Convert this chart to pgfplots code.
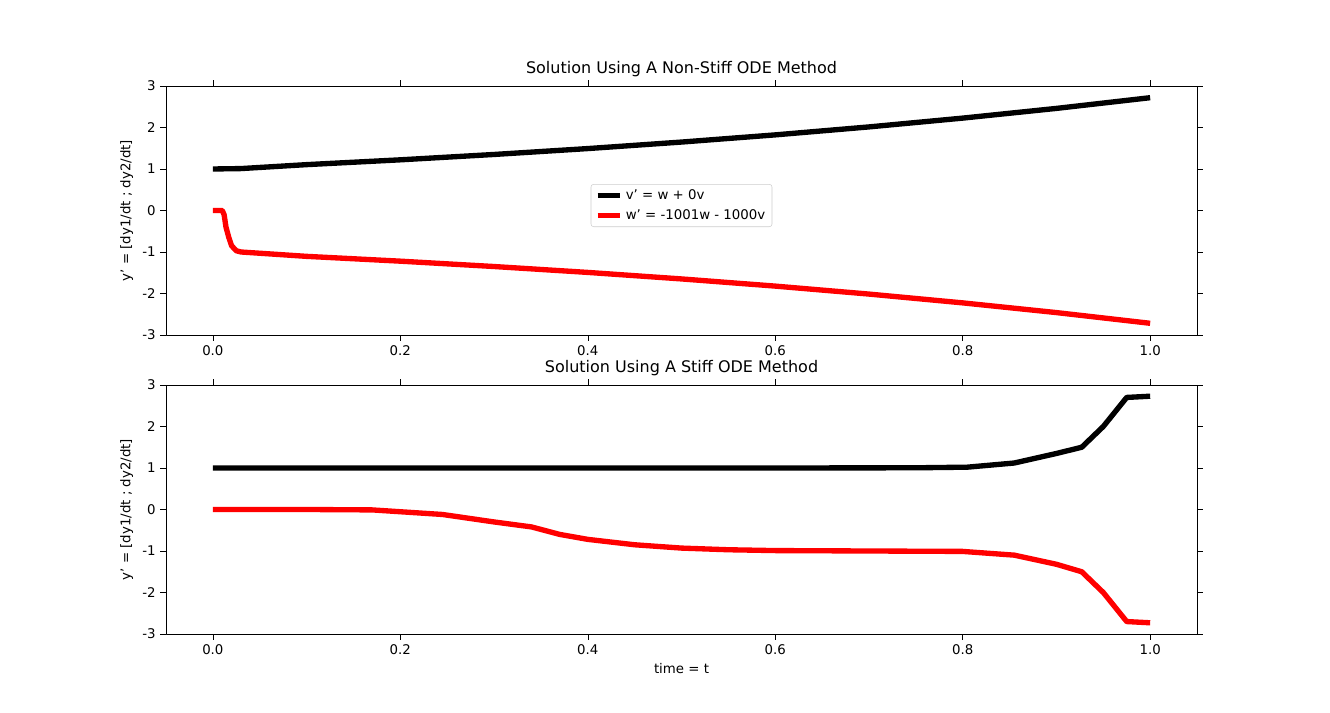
\documentclass[border=0pt]{standalone}
\usepackage{pgfplots}
\pgfplotsset{compat=1.18}
\usepackage{fontspec}
\setmainfont{DejaVu Sans}
\begin{document}
\fontsize{10}{12}\selectfont
\begin{tikzpicture}
\pgfplotsset{every axis/.style={scale only axis, width=773.25pt, height=186.75pt,
 xmin=-0.05, xmax=1.05, ymin=-3, ymax=3, ytick={-3,-2,...,3}, xtick={0,0.2,0.4,0.6,0.8,1.0},
 xticklabels={0.0,0.2,0.4,0.6,0.8,1.0},
 /pgf/number format/assume math mode=true, tick align=outside, tick style={black, thin},
 ylabel={y' = [dy1/dt ; dy2/dt]}, title style={font=\fontsize{12}{14}\selectfont, yshift=-3pt},
 ticklabel style={font=\fontsize{10}{12}\selectfont}, label style={font=\fontsize{10}{12}\selectfont},
 line join=round}}
\begin{axis}[at={(0,283.5pt)}, anchor=south west, title={Solution Using A Non-Stiff ODE Method},
 legend style={at={(0.5,0.52)}, anchor=center, draw=black!20, rounded corners=2pt, font=\fontsize{10}{12}\selectfont, row sep=2pt},
 legend cell align=left, legend image post style={line width=4pt}]
\addplot[black, line width=4pt] coordinates {(0,1)(0.03,1.01)(0.1,1.105)(0.2,1.221)(0.3,1.350)(0.4,1.492)(0.5,1.649)(0.6,1.822)(0.7,2.014)(0.8,2.226)(0.9,2.460)(1.0,2.718)};
\addlegendentry{v' = w + 0v}
\addplot[red, line width=4pt] coordinates {(0,0)(0.01,0)(0.012,-0.1)(0.014,-0.4)(0.017,-0.65)(0.02,-0.85)(0.025,-0.97)(0.03,-1.0)(0.1,-1.105)(0.2,-1.221)(0.3,-1.350)(0.4,-1.492)(0.5,-1.649)(0.6,-1.822)(0.7,-2.014)(0.8,-2.226)(0.9,-2.460)(1.0,-2.718)};
\addlegendentry{w' = -1001w - 1000v}
\end{axis}
\begin{axis}[at={(0,59.25pt)}, anchor=south west, title={Solution Using A Stiff ODE Method}, xlabel={time = t}]
\addplot[black, line width=4pt] coordinates {(0,1)(0.6,1)(0.75,1.005)(0.805,1.02)(0.855,1.12)(0.9,1.35)(0.927,1.5)(0.95,2.0)(0.975,2.7)(1.0,2.73)};
\addplot[red, line width=4pt] coordinates {(0,0)(0.1,0)(0.17,-0.01)(0.245,-0.12)(0.3,-0.3)(0.34,-0.42)(0.37,-0.6)(0.4,-0.72)(0.45,-0.85)(0.5,-0.93)(0.55,-0.97)(0.6,-0.99)(0.8,-1.01)(0.855,-1.1)(0.9,-1.32)(0.927,-1.5)(0.95,-2.0)(0.975,-2.7)(1.0,-2.73)};
\end{axis}
\path[use as bounding box] (-124.5pt,0) rectangle (873pt,534.75pt);
\end{tikzpicture}
\end{document}
